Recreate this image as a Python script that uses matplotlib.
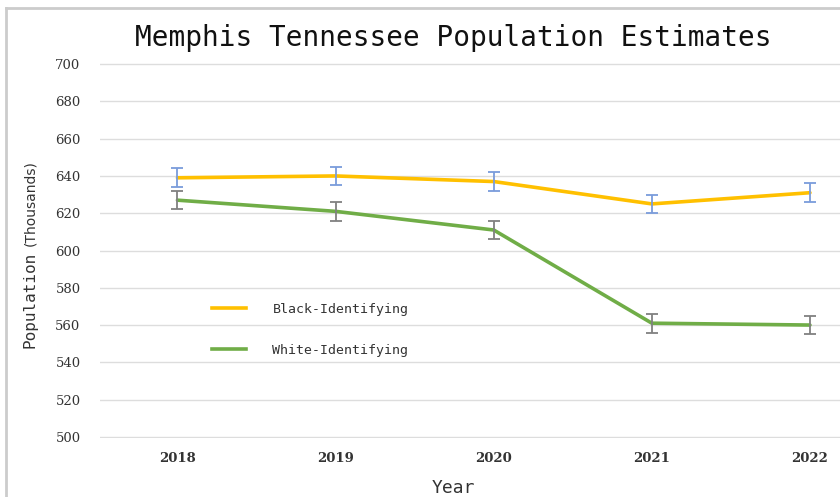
import matplotlib
matplotlib.use("Agg")
import matplotlib.pyplot as plt
from matplotlib.lines import Line2D

years = ["2018", "2019", "2020", "2021", "2022"]
black = [639, 640, 637, 625, 631]
white = [627, 621, 611, 561, 560]
black_err = [5, 5, 5, 5, 5]
white_err = [5, 5, 5, 5, 5]
yticks = [500, 520, 540, 560, 580, 600, 620, 640, 660, 680, 700]

fig = plt.figure(figsize=(8.4, 4.97), dpi=100)
ax = fig.add_axes([100/840, 1-438/497, 740/840, 375/497])

x = list(range(len(years)))
ax.plot(x, black, color="#FFC000", lw=2.6, solid_capstyle="round", zorder=3)
ax.plot(x, white, color="#70AD47", lw=2.6, solid_capstyle="round", zorder=3)
ax.errorbar(x, black, yerr=black_err, fmt="none", ecolor="#7A9CDB", elinewidth=1.3, capsize=4, capthick=1.3, zorder=4)
ax.errorbar(x, white, yerr=white_err, fmt="none", ecolor="#808080", elinewidth=1.3, capsize=4, capthick=1.3, zorder=4)

ax.set_ylim(499.4, 700.6)
ax.set_xlim(-0.49, 4.19)
ax.set_yticks(yticks)
ax.set_xticks(x)
ax.set_xticklabels(years)
ax.grid(axis="y", color="#DDDDDD", lw=1)
ax.set_axisbelow(True)
for s in ax.spines.values():
    s.set_visible(False)
ax.tick_params(length=0)
for lab in ax.get_yticklabels():
    lab.set_fontfamily("DejaVu Serif")
    lab.set_fontsize(9.5)
    lab.set_color("#333333")
ax.tick_params(axis="y", pad=14)
for lab in ax.get_xticklabels():
    lab.set_fontfamily("DejaVu Serif")
    lab.set_fontsize(9.5)
    lab.set_color("#333333")
    lab.set_fontweight("bold")
ax.tick_params(axis="x", pad=10)

# legend
handles = [Line2D([], [], color="#FFC000", lw=2.6), Line2D([], [], color="#70AD47", lw=2.6)]
leg = ax.legend(handles, ["Black-Identifying", "White-Identifying"], loc="upper left",
                bbox_to_anchor=(0.135, 0.392), frameon=False,
                prop={"family": "DejaVu Sans Mono", "size": 9.5},
                handlelength=2.6, handletextpad=2.0, labelspacing=2.1)
for t in leg.get_texts():
    t.set_color("#333333")

fig.text(453/840, 1-38/497, "Memphis Tennessee Population Estimates", ha="center", va="center",
         family="DejaVu Sans Mono", fontsize=20, color="#111111")
fig.text(453/840, 1-488/497, "Year", ha="center", va="center",
         family="DejaVu Sans Mono", fontsize=13, color="#333333")
fig.text(30/840, 1-300/497, "Population", ha="center", va="center", rotation=90,
         family="DejaVu Sans Mono", fontsize=11.5, color="#333333")
fig.text(30/840, 1-203/497, "(Thousands)", ha="center", va="center", rotation=90,
         family="DejaVu Sans", fontsize=10, color="#333333")

# screenshot border
fig.add_artist(Line2D([6/840, 1], [1-8/497, 1-8/497], transform=fig.transFigure, color="#CCCCCC", lw=2))
fig.add_artist(Line2D([6/840, 6/840], [0, 1-8/497], transform=fig.transFigure, color="#CCCCCC", lw=2))

fig.savefig("out.png", dpi=100)
